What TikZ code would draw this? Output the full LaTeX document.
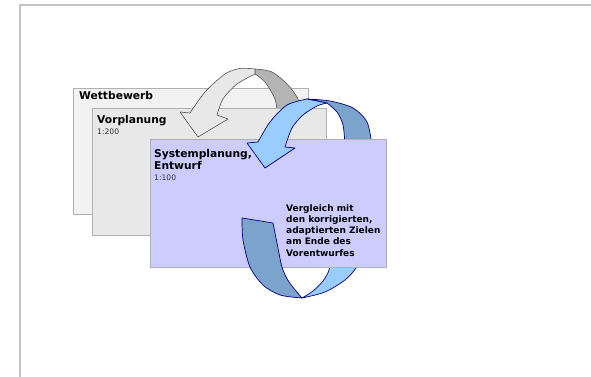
\documentclass[tikz,border=0pt]{standalone}
\usepackage{fontspec}
\setmainfont{DejaVu Sans}
\definecolor{wfill}{HTML}{F2F2F2}
\definecolor{vfill}{HTML}{E8E8E8}
\definecolor{sfill}{HTML}{CCCCFF}
\definecolor{boxline}{HTML}{B0B0B0}
\definecolor{glight}{HTML}{E8E8E8}
\definecolor{gdark}{HTML}{B4B4B4}
\definecolor{gline}{HTML}{555555}
\definecolor{blight}{HTML}{99CCFF}
\definecolor{bdark}{HTML}{7BA3CC}
\definecolor{bline}{HTML}{000080}
\definecolor{framecol}{HTML}{C4C4C4}
\begin{document}
\begin{tikzpicture}[x=1pt,y=-1pt,
  box/.style={draw=boxline, line width=0.8pt, anchor=north west, inner sep=0pt},
  title/.style={anchor=base west, inner sep=0pt, font=\fontsize{10.7}{12}\selectfont\bfseries},
  scalelbl/.style={anchor=base west, inner sep=0pt, font=\fontsize{7.6}{9}\selectfont, text=black!80},
  note/.style={anchor=base west, inner sep=0pt, align=left, font=\fontsize{9}{11.25}\selectfont\bfseries},
  grayback/.style={fill=gdark, draw=gline, line width=0.6pt, line join=round},
  grayfront/.style={fill=glight, draw=gline, line width=0.6pt, line join=round},
  blueback/.style={fill=bdark, draw=bline, line width=0.7pt, line join=round},
  bluefront/.style={fill=blight, draw=bline, line width=0.7pt, line join=round}]
\useasboundingbox (0,0) rectangle (591,377);
% frame
\coordinate (fbl) at (20,377);
\coordinate (ftl) at (20,5);
\coordinate (ftr) at (591,5);
\draw[framecol, line width=1.5pt] (fbl) -- (ftl) -- (ftr);
% Wettbewerb box
\node[box, fill=wfill, minimum width=235pt, minimum height=126pt] (wett) at (73,88) {};
% gray arrow, back side
\path[grayback] plot[smooth] coordinates {(255,69) (272,72) (288,85) (298,99) (301,112)}
  -- (277,112) -- plot[smooth] coordinates {(277,112) (275,99) (265,82) (255,74)} -- cycle;
% Vorplanung box
\node[box, fill=vfill, minimum width=234pt, minimum height=127pt] (vorp) at (92,108) {};
% gray arrow, front side
\path[grayfront] (198,137) -- (180,112) -- (190,113)
  -- plot[smooth] coordinates {(190,113) (205,92) (225,74) (240,68.5) (255,69)}
  -- (255,74) -- plot[smooth] coordinates {(255,74) (237,84) (223,99) (217,115)}
  -- (228,119) -- cycle;
% blue loop, back parts
\path[blueback] plot[smooth] coordinates {(307,99) (330,101) (353,108) (367,122) (372,145)}
  -- (345,145) -- plot[smooth] coordinates {(345,145) (343,125) (337,112) (327,103)} -- cycle;
\path[bluefront] plot[smooth] coordinates {(302,298) (325,292) (345,280) (356,268) (362,255)}
  -- (331,255) -- plot[smooth] coordinates {(331,255) (329,270) (323,281) (313,291) (302,298)} -- cycle;
% Systemplanung box
\node[box, fill=sfill, minimum width=236pt, minimum height=128pt] (syst) at (150,139) {};
% blue loop, front parts
\path[bluefront] (265,168) -- (247,143) -- (258,142)
  -- plot[smooth] coordinates {(258,142) (270,122) (287,105) (307,99)}
  -- (327,103) -- plot[smooth] coordinates {(327,103) (317,106) (303,115) (292,128) (285,147)}
  -- (295,148) -- cycle;
\path[blueback] (242,218) -- (273,223)
  -- plot[smooth] coordinates {(273,223) (277,243) (282,267) (289,282) (302,298)}
  -- plot[smooth] coordinates {(302,298) (280,295) (263,285) (250,267) (243,240) (242,218)} -- cycle;
% texts
\node[title] (wettT) at (79,100) {Wettbewerb};
\node[title] (vorpT) at (97,124) {Vorplanung};
\node[scalelbl] (vorpS) at (97,134) {1:200};
\node[title] (systT) at (154,157) {Systemplanung,};
\node[title] (systT2) at (154,169) {Entwurf};
\node[scalelbl] (systS) at (154,180) {1:100};
\node[note] (noteT) at (286,256) {Vergleich mit\\den korrigierten,\\adaptierten Zielen\\am Ende des\\Vorentwurfes};
\end{tikzpicture}
\end{document}
